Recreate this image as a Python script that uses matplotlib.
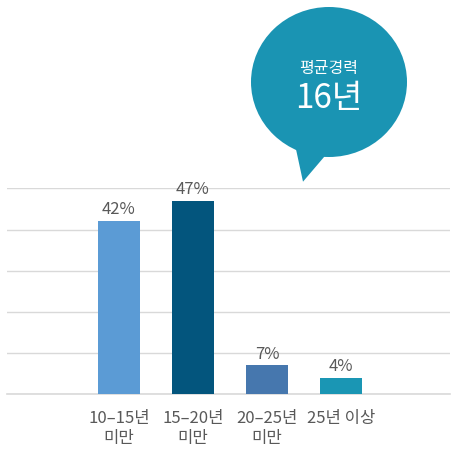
import matplotlib
matplotlib.use("Agg")
import matplotlib.pyplot as plt
from matplotlib.patches import Ellipse, Polygon

plt.rcParams['font.family'] = ['Noto Sans CJK KR', 'DejaVu Sans']

categories = ["10–15년\n미만", "15–20년\n미만", "20–25년\n미만", "25년 이상"]
values = [42, 47, 7, 4]
labels = ["42%", "47%", "7%", "4%"]
colors = ["#5b9bd5", "#03557d", "#4677ae", "#1a96b4"]
bubble_title = "평균경력"
bubble_value = "16년"

W, H = 451, 455
fig = plt.figure(figsize=(W / 100, H / 100), dpi=100)
ax = fig.add_axes([7 / W, 1 - 394.3 / H, (450 - 7) / W, (394.3 - 188.3) / H])

x = list(range(len(categories)))
bars = ax.bar(x, values, width=0.57, color=colors, zorder=3)
ax.set_xlim(-1.51, 4.47)
ax.set_ylim(0, 50)
ax.set_yticks([0, 10, 20, 30, 40, 50])
ax.yaxis.grid(True, color="#d9d9d9", linewidth=1, zorder=0)
ax.axhline(0, color="#d9d9d9", linewidth=1.2, zorder=2, clip_on=False)
ax.tick_params(axis='y', left=False, labelleft=False)
ax.tick_params(axis='x', bottom=False, pad=8)
ax.set_xticks(x)
ax.set_xticklabels(categories, fontsize=12, color="#595959", linespacing=1.2)
for s in ax.spines.values():
    s.set_visible(False)

for b, lab in zip(bars, labels):
    ax.annotate(lab, (b.get_x() + b.get_width() / 2, b.get_height()),
                xytext=(0, 2), textcoords="offset points", ha="center", va="bottom",
                fontsize=12, color="#595959", clip_on=False)

# speech bubble
bx = fig.add_axes([0, 0, 1, 1], zorder=5)
bx.set_xlim(0, W)
bx.set_ylim(H, 0)
bx.axis("off")
bcol = "#1a94b3"
bx.add_patch(Ellipse((329, 82), 156, 150, color=bcol, lw=0))
bx.add_patch(Polygon([(294, 140), (303, 181.7), (330, 150)], closed=True, color=bcol, lw=0))
bx.text(329, 69, bubble_title, ha="center", va="center", fontsize=11.5, color="white")
bx.text(329, 98, bubble_value, ha="center", va="center", fontsize=24, color="white")

fig.savefig("out.png", dpi=100)
